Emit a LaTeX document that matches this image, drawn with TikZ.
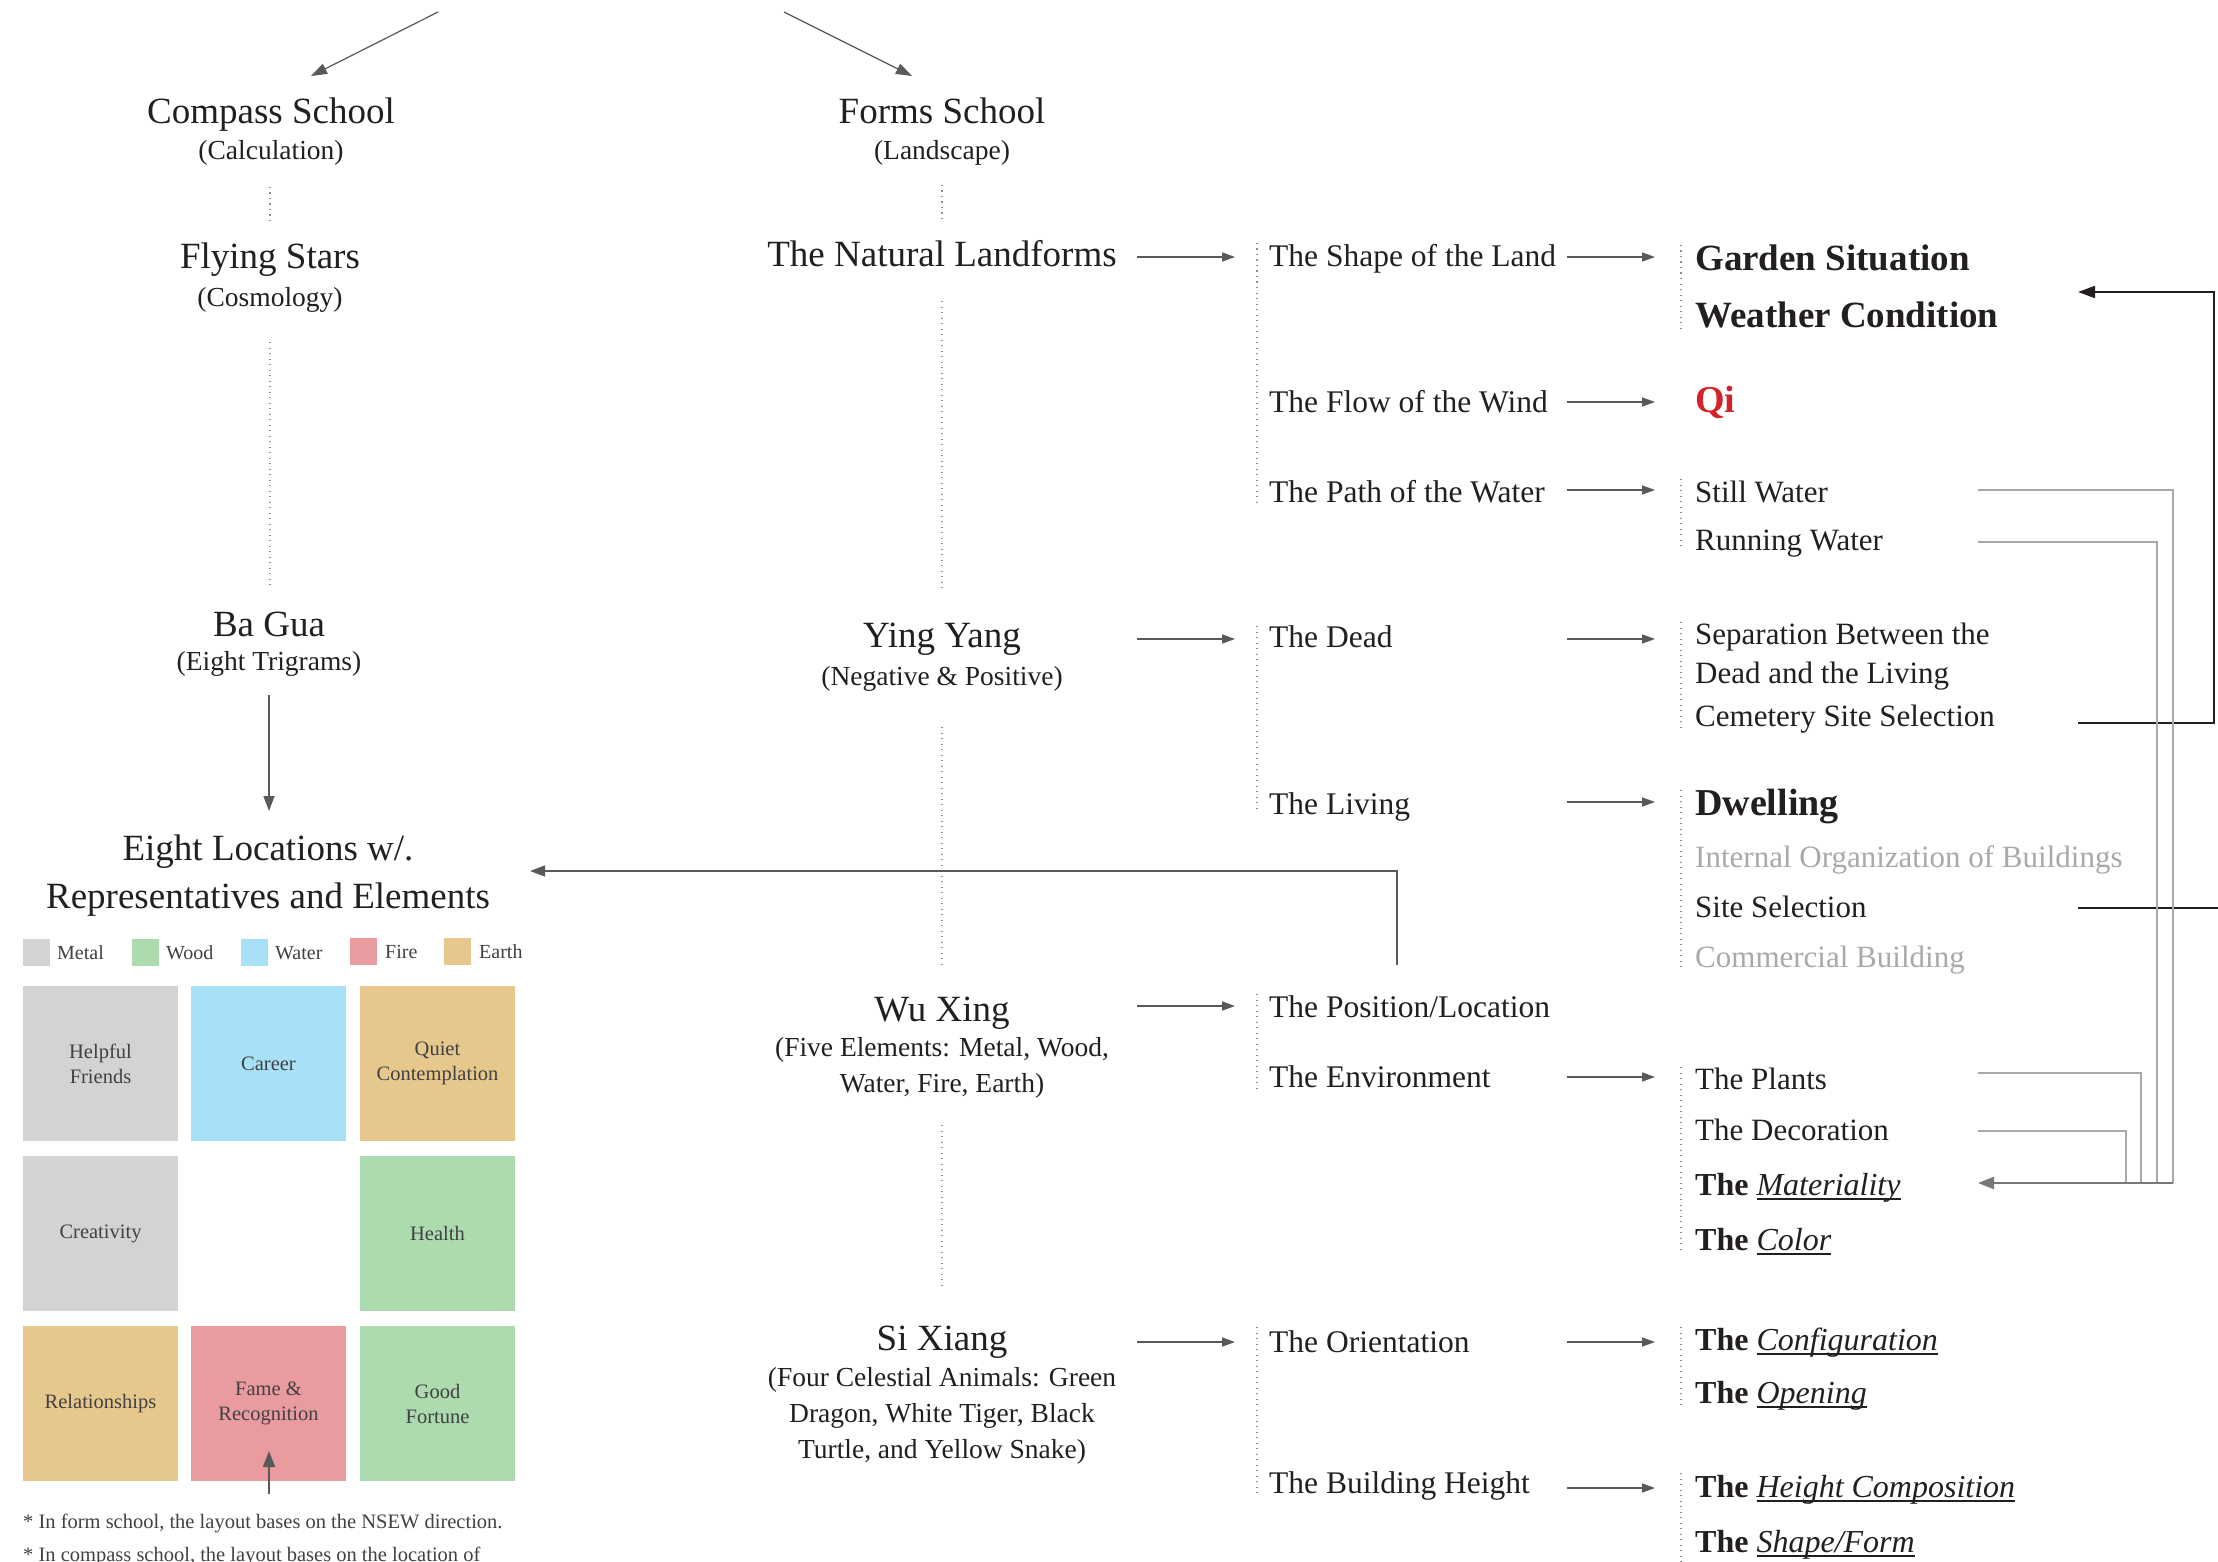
\documentclass[tikz,border=0pt]{standalone}
\usepackage{fontspec}
\setmainfont{Liberation Serif}
\usetikzlibrary{arrows.meta}
\definecolor{ink}{HTML}{231F20}
\definecolor{arrgray}{HTML}{58595B}
\definecolor{dotgray}{HTML}{8C8C8C}
\definecolor{linegray}{HTML}{A7A9AC}
\definecolor{midgray}{HTML}{77787B}
\definecolor{ligtxt}{HTML}{A7A9AC}
\definecolor{celltxt}{HTML}{414042}
\definecolor{qired}{HTML}{D2232A}
\definecolor{metal}{HTML}{D1D3D4}
\definecolor{wood}{HTML}{ACDBAF}
\definecolor{water}{HTML}{A8E1F7}
\definecolor{fire}{HTML}{E99BA0}
\definecolor{earth}{HTML}{E6C78C}
\newsavebox\ulbox
\newcommand\ulx[1]{\sbox\ulbox{#1}\rlap{\rule[-4.5pt]{\wd\ulbox}{1.8pt}}\usebox\ulbox}
\tikzset{
  head/.style={font=\fontsize{37}{44}\selectfont, text=ink, inner sep=0pt, anchor=base},
  subt/.style={font=\fontsize{27.5}{33}\selectfont, text=ink, inner sep=0pt, anchor=base},
  itemc/.style={font=\fontsize{31.5}{38}\selectfont, text=ink, inner sep=0pt, anchor=base west},
  itemd/.style={font=\fontsize{31}{37}\selectfont, text=ink, inner sep=0pt, anchor=base west},
  boldd/.style={font=\fontsize{37}{44}\selectfont\bfseries, text=ink, inner sep=0pt, anchor=base west},
  thed/.style={font=\fontsize{32}{38}\selectfont, text=ink, inner sep=0pt, anchor=base west},
  cell/.style={minimum width=155pt, minimum height=155pt, inner sep=0pt, align=center,
     font=\fontsize{20.5}{25}\selectfont, text=celltxt},
  legsq/.style={minimum width=27pt, minimum height=27pt, inner sep=0pt},
  legtxt/.style={font=\fontsize{20}{24}\selectfont, text=celltxt, inner sep=0pt, anchor=base west},
  foot/.style={font=\fontsize{20.5}{25}\selectfont, text=celltxt, inner sep=0pt, anchor=base west},
  dotln/.style={draw=dotgray, line width=1.3pt, dash pattern=on 1.3pt off 4.2pt},
  colarrow/.style={draw=arrgray, line width=1.6pt, -{Triangle[length=13pt,width=9pt]}},
  toparrow/.style={draw=arrgray, line width=1.2pt, -{Triangle[length=16pt,width=11pt]}},
  thinarrow/.style={draw=arrgray, line width=1.4pt, -{Triangle[length=15pt,width=11pt]}},
  blackln/.style={draw=ink, line width=2pt},
  grayln/.style={draw=linegray, line width=1.5pt},
}
\begin{document}
\begin{tikzpicture}[x=1pt,y=-1pt]
\useasboundingbox[fill=white] (0,0) rectangle (2218,1562);

% ---------- top arrows
\coordinate (tl1) at (438,12); \coordinate (tl2) at (311,76);
\coordinate (tr1) at (784,12); \coordinate (tr2) at (912,76);
\draw[toparrow] (tl1) -- (tl2);
\draw[toparrow] (tr1) -- (tr2);

% ---------- compass column
\node[head] (cs) at (271,124) {Compass School};
\node[subt] (csb) at (271,160) {(Calculation)};
\coordinate (d1a) at (270,187); \coordinate (d1b) at (270,222);
\draw[dotln] (d1a) -- (d1b);
\node[head] (fs) at (270,269) {Flying Stars};
\node[subt] (fsb) at (270,306) {(Cosmology)};
\coordinate (d2a) at (270,342); \coordinate (d2b) at (270,587);
\draw[dotln] (d2a) -- (d2b);
\node[head] (bg) at (269,636) {Ba Gua};
\node[subt] (bgb) at (269,670) {(Eight Trigrams)};
\coordinate (bga) at (269,695); \coordinate (bgt) at (269,811);
\draw[thinarrow] (bga) -- (bgt);
\node[head] (el1) at (268,860) {Eight Locations w/.};
\node[head] (el2) at (268,908) {Representatives and Elements};

% legend
\node[legsq, fill=metal] (lm) at (36.5,952.5) {};
\node[legtxt] (lmt) at (57,959) {Metal};
\node[legsq, fill=wood] (lw) at (145.5,952.5) {};
\node[legtxt] (lwt) at (166,959) {Wood};
\node[legsq, fill=water] (lr) at (254.5,952.5) {};
\node[legtxt] (lrt) at (275,959) {Water};
\node[legsq, fill=fire] (lf) at (363.5,951.5) {};
\node[legtxt] (lft) at (385,958) {Fire};
\node[legsq, fill=earth] (le) at (457.5,951.5) {};
\node[legtxt] (let) at (479,958) {Earth};

% grid
\node[cell, fill=metal] (g11) at (100.5,1063.5) {Helpful\\Friends};
\node[cell, fill=water] (g12) at (268.5,1063.5) {Career};
\node[cell, fill=earth] (g13) at (437.5,1063.5) {Quiet\\Contemplation};
\node[cell, fill=metal] (g21) at (100.5,1233.5) {Creativity};
\node[cell, fill=wood]  (g23) at (437.5,1233.5) {Health};
\node[cell, fill=earth] (g31) at (100.5,1403.5) {Relationships};
\node[cell, fill=fire]  (g32) at (268.5,1403.5) {Fame \&\\Recognition};
\node[cell, fill=wood]  (g33) at (437.5,1403.5) {Good\\Fortune};
\coordinate (fa1) at (269,1494); \coordinate (fa2) at (269,1451);
\draw[draw=arrgray, line width=1.8pt, -{Triangle[length=16pt,width=12pt]}] (fa1) -- (fa2);

\node[foot] (fn1) at (23,1528) {* In form school, the layout bases on the NSEW direction.};
\node[foot] (fn2) at (23,1561) {* In compass school, the layout bases on the location of};

% ---------- forms column
\node[head] (fm) at (942,124) {Forms School};
\node[subt] (fmb) at (942,160) {(Landscape)};
\coordinate (d3a) at (942,185); \coordinate (d3b) at (942,222);
\draw[dotln] (d3a) -- (d3b);
\node[head] (nl) at (942,267) {The Natural Landforms};
\coordinate (d4a) at (942,301); \coordinate (d4b) at (942,591);
\draw[dotln] (d4a) -- (d4b);
\node[head] (yy) at (942,647) {Ying Yang};
\node[subt] (yyb) at (942,685) {(Negative \& Positive)};
\coordinate (d5a) at (942,727); \coordinate (d5b) at (942,966);
\draw[dotln] (d5a) -- (d5b);
\node[head] (wx) at (942,1021) {Wu Xing};
\node[subt] (wxb1) at (942,1056) {(Five Elements: Metal, Wood,};
\node[subt] (wxb2) at (942,1092) {Water, Fire, Earth)};
\coordinate (d6a) at (942,1125); \coordinate (d6b) at (942,1285);
\draw[dotln] (d6a) -- (d6b);
\node[head] (sx) at (942,1350) {Si Xiang};
\node[subt] (sxb1) at (942,1386) {(Four Celestial Animals: Green};
\node[subt] (sxb2) at (942,1422) {Dragon, White Tiger, Black};
\node[subt] (sxb3) at (942,1458) {Turtle, and Yellow Snake)};

% ---------- third column
\node[itemc] (c3a) at (1269,266) {The Shape of the Land};
\node[itemc] (c3b) at (1269,412) {The Flow of the Wind};
\node[itemc] (c3c) at (1269,502) {The Path of the Water};
\coordinate (d7a) at (1257,243); \coordinate (d7b) at (1257,505);
\draw[dotln] (d7a) -- (d7b);
\node[itemc] (c3d) at (1269,647) {The Dead};
\node[itemc] (c3e) at (1269,814) {The Living};
\coordinate (d8a) at (1257,626); \coordinate (d8b) at (1257,812);
\draw[dotln] (d8a) -- (d8b);
\node[itemc] (c3f) at (1269,1017) {The Position/Location};
\node[itemc] (c3g) at (1269,1087) {The Environment};
\coordinate (d9a) at (1257,994); \coordinate (d9b) at (1257,1089);
\draw[dotln] (d9a) -- (d9b);
\node[itemc] (c3h) at (1269,1352) {The Orientation};
\node[itemc] (c3i) at (1269,1493) {The Building Height};
\coordinate (d10a) at (1257,1327); \coordinate (d10b) at (1257,1493);
\draw[dotln] (d10a) -- (d10b);

% arrows col2 -> col3
\foreach \n/\yy in {1/257, 2/639, 3/1006, 4/1342}{
  \coordinate (ab\n) at (1137,\yy); \coordinate (ae\n) at (1235,\yy);
  \draw[colarrow] (ab\n) -- (ae\n);
}
% arrows col3 -> col4
\foreach \n/\yy in {1/257, 2/402, 3/490, 4/639, 5/802, 6/1077, 7/1342, 8/1488}{
  \coordinate (bb\n) at (1567,\yy); \coordinate (be\n) at (1655,\yy);
  \draw[colarrow] (bb\n) -- (be\n);
}

% ---------- fourth column
\node[boldd] (gs) at (1695,270) {Garden Situation};
\node[boldd] (wc) at (1695,327) {Weather Condition};
\coordinate (e1a) at (1681,245); \coordinate (e1b) at (1681,330);
\draw[dotln] (e1a) -- (e1b);
\node[boldd, text=qired, font=\fontsize{38}{44}\selectfont\bfseries] (qi) at (1695,412) {Qi};
\node[itemd] (sw) at (1695,502) {Still Water};
\node[itemd] (rw) at (1695,550) {Running Water};
\coordinate (e2a) at (1681,479); \coordinate (e2b) at (1681,550);
\draw[dotln] (e2a) -- (e2b);
\node[itemd] (sp1) at (1695,644) {Separation Between the};
\node[itemd] (sp2) at (1695,683) {Dead and the Living};
\node[itemd] (cem) at (1695,726) {Cemetery Site Selection};
\coordinate (e3a) at (1681,622); \coordinate (e3b) at (1681,728);
\draw[dotln] (e3a) -- (e3b);
\node[boldd, font=\fontsize{38}{44}\selectfont\bfseries] (dw) at (1695,815) {Dwelling};
\node[itemd, text=ligtxt] (io) at (1695,867) {Internal Organization of Buildings};
\node[itemd] (ss) at (1695,917) {Site Selection};
\node[itemd, text=ligtxt] (cb) at (1695,967) {Commercial Building};
\coordinate (e4a) at (1681,790); \coordinate (e4b) at (1681,967);
\draw[dotln] (e4a) -- (e4b);
\node[itemd] (pl) at (1695,1089) {The Plants};
\node[itemd] (dc) at (1695,1140) {The Decoration};
\node[thed] (mt) at (1695,1195) {\textbf{The} \ulx{\textit{Materiality}}};
\node[thed] (co) at (1695,1250) {\textbf{The} \ulx{\textit{Color}}};
\coordinate (e5a) at (1681,1067); \coordinate (e5b) at (1681,1252);
\draw[dotln] (e5a) -- (e5b);
\node[thed] (cf) at (1695,1350) {\textbf{The} \ulx{\textit{Configuration}}};
\node[thed] (op) at (1695,1403) {\textbf{The} \ulx{\textit{Opening}}};
\coordinate (e6a) at (1681,1327); \coordinate (e6b) at (1681,1408);
\draw[dotln] (e6a) -- (e6b);
\node[thed] (hc) at (1695,1497) {\textbf{The} \ulx{\textit{Height Composition}}};
\node[thed] (sf) at (1695,1552) {\textbf{The} \ulx{\textit{Shape/Form}}};
\coordinate (e7a) at (1681,1473); \coordinate (e7b) at (1681,1562);
\draw[dotln] (e7a) -- (e7b);

% ---------- site selection -> eight locations
\coordinate (s1) at (1397,965); \coordinate (s2) at (1397,871); \coordinate (s3) at (530,871);
\draw[thinarrow] (s1) -- (s2) -- (s3);

% ---------- right black connectors
\coordinate (k1) at (2078,723); \coordinate (k2) at (2214,723);
\coordinate (k3) at (2214,292); \coordinate (k4) at (2078,292);
\draw[blackln, -{Triangle[length=17pt,width=12pt]}] (k1) -- (k2) -- (k3) -- (k4);
\coordinate (k5) at (2078,908); \coordinate (k6) at (2218,908);
\draw[blackln] (k5) -- (k6);

% ---------- gray bundle to Materiality
\coordinate (g1a) at (1978,490);  \coordinate (g1b) at (2173,490);  \coordinate (g1c) at (2173,1183);
\coordinate (g2a) at (1978,542);  \coordinate (g2b) at (2157,542);  \coordinate (g2c) at (2157,1183);
\coordinate (g3a) at (1978,1073); \coordinate (g3b) at (2141,1073); \coordinate (g3c) at (2141,1183);
\coordinate (g4a) at (1978,1131); \coordinate (g4b) at (2126,1131); \coordinate (g4c) at (2126,1183);
\draw[grayln] (g1a) -- (g1b) -- (g1c);
\draw[grayln] (g2a) -- (g2b) -- (g2c);
\draw[grayln] (g3a) -- (g3b) -- (g3c);
\draw[grayln] (g4a) -- (g4b) -- (g4c);
\coordinate (gm) at (1978,1183);
\draw[draw=midgray, line width=2.3pt, -{Triangle[length=16pt,width=12pt]}] (g1c) -- (gm);
\end{tikzpicture}
\end{document}
